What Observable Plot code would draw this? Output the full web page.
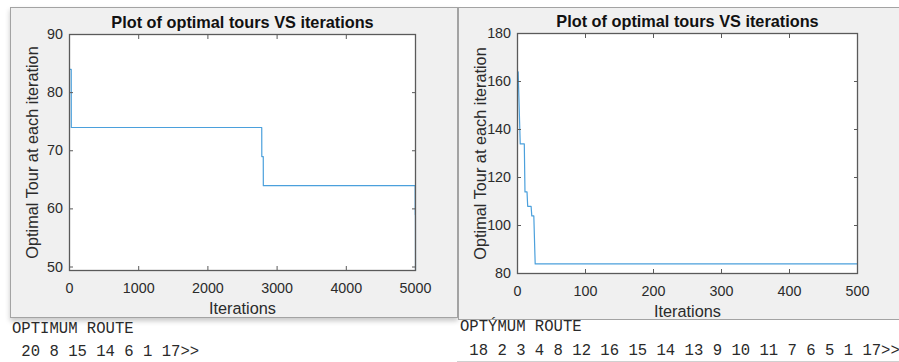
<!DOCTYPE html>
<html><head><meta charset="utf-8">
<script src="https://cdn.jsdelivr.net/npm/d3@7"></script>
<script src="https://cdn.jsdelivr.net/npm/@observablehq/plot@0.6"></script>
<style>
body{margin:0;background:#fff;}
#root{position:relative;width:899px;height:362px;overflow:hidden;background:#fff;}
.win{position:absolute;background:#f0f0f0;border:1px solid #a3a3a3;box-sizing:border-box;}
.plot{position:absolute;top:0;}
.console{position:absolute;font-family:"Liberation Mono","Courier New",monospace;font-size:15.6px;color:#2a2a2a;white-space:pre;line-height:1;}
</style></head><body><div id="root">
<div class="win" style="left:10px;top:7px;width:448px;height:311px;box-shadow:0 3px 5px rgba(0,0,0,0.22);"></div>
<div class="win" style="left:458px;top:7px;width:460px;height:313px;"></div>
</div>
<script>
// ---- data ----
const leftIter = [1, 25, 26, 2778, 2779, 2800, 2801, 4995, 4996, 4999, 5000];
const leftTour = [84, 84, 74, 74, 69, 69, 64, 64, 59, 59, 49.4];
const rightIter = [1, 2, 4, 10, 11, 14, 15, 20, 21, 24, 26, 500];
const rightTour = [164, 154, 134, 134, 114, 114, 108, 108, 104, 104, 84, 84];
const leftXTicks = [0, 1000, 2000, 3000, 4000, 5000];
const leftYTicks = [50, 60, 70, 80, 90];
const rightXTicks = [0, 100, 200, 300, 400, 500];
const rightYTicks = [80, 100, 120, 140, 160, 180];
const titleText = "Plot of optimal tours VS iterations";
const xLabel = "Iterations";
const yLabel = "Optimal Tour at each iteration";
const leftHeader = "OPTIMUM ROUTE";
const rightHeader = "OPTÝMUM ROUTE";
const leftRoute = [20, 8, 15, 14, 6, 1, 17];
const rightRoute = [18, 2, 3, 4, 8, 12, 16, 15, 14, 13, 9, 10, 11, 7, 6, 5, 1, 17];

const axisColor = "#5a5a5a";
const textColor = "#2b2b2b";
const lineColor = "#4ba0dc";
const font = "'Liberation Sans', Arial, sans-serif";
const fmt = d => String(d);

function panel({iter, tour, xDomain, yDomain, xTicks, yTicks, width, margins}) {
  const data = iter.map((x, i) => ({x, y: tour[i]}));
  return Plot.plot({
    width, height: 362, ...margins,
    style: {background: "transparent", fontFamily: font, color: textColor, overflow: "visible"},
    x: {domain: xDomain},
    y: {domain: yDomain},
    marks: [
      Plot.frame({fill: "#fff", stroke: null}),
      Plot.line(data, {x: "x", y: "y", stroke: lineColor, strokeWidth: 1.2}),
      Plot.axisX(xTicks, {anchor: "bottom", tickSize: -4, fill: "none", label: null, stroke: axisColor}),
      Plot.axisX(xTicks, {anchor: "top", tickSize: -4, fill: "none", label: null, stroke: axisColor}),
      Plot.axisY(yTicks, {anchor: "left", tickSize: -4, fill: "none", label: null, stroke: axisColor}),
      Plot.axisY(yTicks, {anchor: "right", tickSize: -4, fill: "none", label: null, stroke: axisColor}),
      Plot.axisX(xTicks, {anchor: "bottom", tickSize: 0, tickPadding: 12, label: null, fontSize: 14.3, fill: textColor, tickFormat: fmt}),
      Plot.axisY(yTicks, {anchor: "left", tickSize: 0, tickPadding: 6.5, label: null, fontSize: 14.3, fill: textColor, tickFormat: fmt}),
      Plot.frame({stroke: axisColor, strokeWidth: 1.3}),
      Plot.text([titleText], {frameAnchor: "top", dy: -11.5, textAnchor: "middle", lineAnchor: "middle", fontWeight: "bold", fontSize: 16.3, fill: "#111"}),
      Plot.text([xLabel], {frameAnchor: "bottom", dy: 38, textAnchor: "middle", lineAnchor: "middle", fontSize: 16.3, fill: textColor}),
      Plot.text([yLabel], {frameAnchor: "left", dx: -36.5, rotate: -90, textAnchor: "middle", lineAnchor: "middle", fontSize: 16.3, fill: textColor})
    ]
  });
}

const root = document.getElementById("root");

const left = panel({iter: leftIter, tour: leftTour, xDomain: [0, 5000], yDomain: [49.4, 90],
  xTicks: leftXTicks, yTicks: leftYTicks, width: 458,
  margins: {marginLeft: 69, marginRight: 43, marginTop: 34, marginBottom: 92}});
left.classList.add("plot"); left.style.left = "0px";
root.appendChild(left);

const right = panel({iter: rightIter, tour: rightTour, xDomain: [0, 500], yDomain: [80, 180],
  xTicks: rightXTicks, yTicks: rightYTicks, width: 441,
  margins: {marginLeft: 59, marginRight: 42, marginTop: 33, marginBottom: 89}});
right.classList.add("plot"); right.style.left = "458px";
root.appendChild(right);

function consoleLine(text, x, top) {
  const d = document.createElement("div");
  d.className = "console";
  d.style.left = x + "px"; d.style.top = top + "px";
  d.textContent = text;
  root.appendChild(d);
}
consoleLine(leftHeader, 12, 322);
consoleLine(" " + leftRoute.join(" ") + ">>", 12, 345);
consoleLine(rightHeader, 460, 320);
consoleLine(" " + rightRoute.join(" ") + ">>", 460, 344);
const sep = document.createElement("div");
sep.style.cssText = "position:absolute;left:457px;top:361px;width:442px;height:1px;background:#d0d0d0;";
root.appendChild(sep);
</script>
</body></html>
